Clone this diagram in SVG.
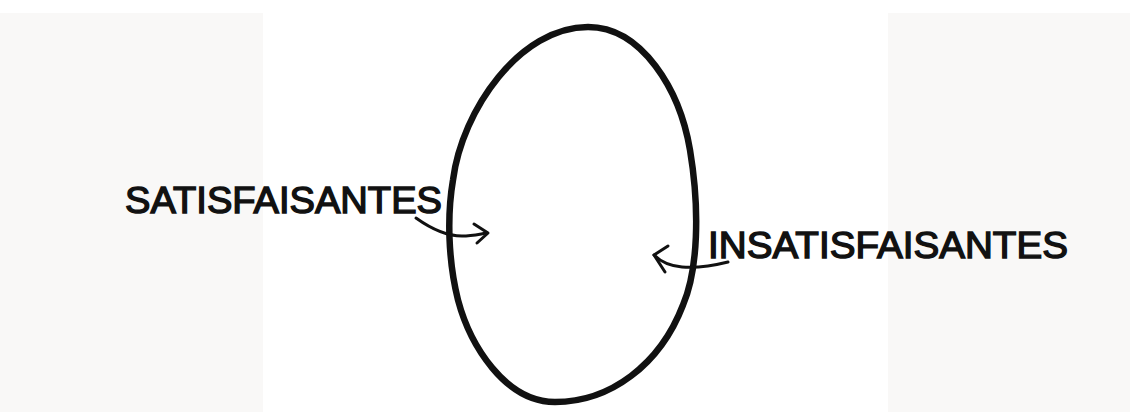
<svg xmlns="http://www.w3.org/2000/svg" width="1130" height="412" viewBox="0 0 1130 412">
<style>
.lbl{font-family:"Liberation Sans",Arial,sans-serif;font-size:37px;fill:#111;stroke:#111;stroke-width:1.4}
.ln{fill:none;stroke:#111;stroke-linecap:round;stroke-linejoin:round}
</style>
<rect width="1130" height="412" fill="#ffffff"/>
<rect x="0" y="13" width="263" height="399" fill="#f9f8f7"/>
<rect x="888" y="13" width="242" height="399" fill="#f9f8f7"/>
<g id="egg">
<path class="ln" stroke-width="6.5" d="M588,27 C642,27 680,90 690,150 C700,210 698,270 683,305 C660,365 610,402 555,402 C505,402 470,345 458,300 C448,260 447,215 453,180 C462,110 520,27 588,27 Z"/>
</g>
<g id="satisfaisantes">
<text class="lbl" x="125" y="213" textLength="317" lengthAdjust="spacingAndGlyphs">SATISFAISANTES</text>
</g>
<g id="insatisfaisantes">
<text class="lbl" x="708" y="258" textLength="360" lengthAdjust="spacingAndGlyphs">INSATISFAISANTES</text>
</g>
<g id="connectors">
<path class="ln" stroke-width="3" d="M416,218 C430,228 445,236 462,236 C472,236 480,234 487,233"/>
<path class="ln" stroke-width="3" d="M474,224 L488,233 L477,243"/>
<path class="ln" stroke-width="3" d="M728,262 C712,266 695,268 682,267 C670,266 660,261 654,255"/>
<path class="ln" stroke-width="3" d="M668,246 L654,255 L665,272"/>
</g>
</svg>
